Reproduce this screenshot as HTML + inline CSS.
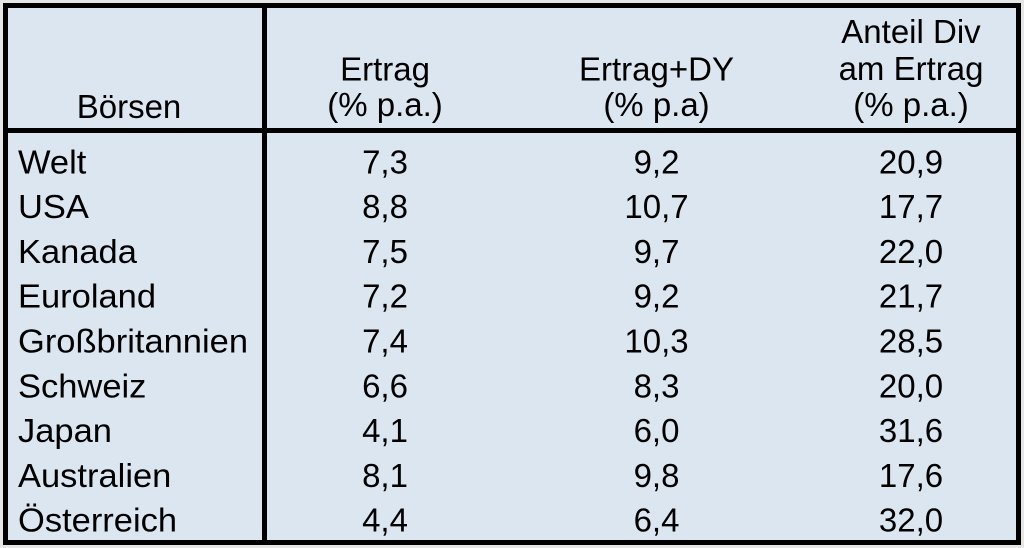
<!DOCTYPE html>
<html>
<head>
<meta charset="utf-8">
<style>
  html, body { margin: 0; padding: 0; background: #e6e6e6; }
  svg { display: block; }
  text { font-family: "Liberation Sans", Arial, sans-serif; font-size: 33px; fill: #000; }
</style>
</head>
<body>
<svg width="1024" height="548" viewBox="0 0 1024 548" xmlns="http://www.w3.org/2000/svg">
  <rect x="0" y="0" width="1024" height="548" fill="#e6e6e6"/>
  <rect x="3" y="3" width="1018" height="542" fill="#dce6f1"/>
  <!-- borders -->
  <rect x="3" y="3" width="1018" height="5" fill="#000"/>
  <rect x="3" y="540" width="1018" height="5" fill="#000"/>
  <rect x="3" y="3" width="5" height="542" fill="#000"/>
  <rect x="1016" y="3" width="5" height="542" fill="#000"/>
  <rect x="262" y="3" width="5" height="542" fill="#000"/>
  <rect x="3" y="128" width="1018" height="5" fill="#000"/>

  <!-- header -->
  <text x="129" y="118" text-anchor="middle">Börsen</text>
  <text x="385" y="80.5" text-anchor="middle">Ertrag</text>
  <text x="385" y="116" text-anchor="middle">(% p.a.)</text>
  <text x="656.5" y="80.5" text-anchor="middle">Ertrag+DY</text>
  <text x="656.5" y="116" text-anchor="middle">(% p.a)</text>
  <text x="911" y="43" text-anchor="middle">Anteil Div</text>
  <text x="911" y="80" text-anchor="middle">am Ertrag</text>
  <text x="911" y="116" text-anchor="middle">(% p.a.)</text>

  <!-- row labels -->
  <g transform="translate(18,0) scale(1.045,1)">
    <text x="0" y="173.3">Welt</text>
    <text x="0" y="218.1">USA</text>
    <text x="0" y="262.9">Kanada</text>
    <text x="0" y="307.7">Euroland</text>
    <text x="0" y="352.5">Großbritannien</text>
    <text x="0" y="397.3">Schweiz</text>
    <text x="0" y="442.1">Japan</text>
    <text x="0" y="486.9">Australien</text>
    <text x="0" y="531.7">Österreich</text>
  </g>

  <!-- values -->
  <g text-anchor="middle">
    <text x="385" y="173.3">7,3</text>
    <text x="656.5" y="173.3">9,2</text>
    <text x="911" y="173.3">20,9</text>

    <text x="385" y="218.1">8,8</text>
    <text x="656.5" y="218.1">10,7</text>
    <text x="911" y="218.1">17,7</text>

    <text x="385" y="262.9">7,5</text>
    <text x="656.5" y="262.9">9,7</text>
    <text x="911" y="262.9">22,0</text>

    <text x="385" y="307.7">7,2</text>
    <text x="656.5" y="307.7">9,2</text>
    <text x="911" y="307.7">21,7</text>

    <text x="385" y="352.5">7,4</text>
    <text x="656.5" y="352.5">10,3</text>
    <text x="911" y="352.5">28,5</text>

    <text x="385" y="397.3">6,6</text>
    <text x="656.5" y="397.3">8,3</text>
    <text x="911" y="397.3">20,0</text>

    <text x="385" y="442.1">4,1</text>
    <text x="656.5" y="442.1">6,0</text>
    <text x="911" y="442.1">31,6</text>

    <text x="385" y="486.9">8,1</text>
    <text x="656.5" y="486.9">9,8</text>
    <text x="911" y="486.9">17,6</text>

    <text x="385" y="531.7">4,4</text>
    <text x="656.5" y="531.7">6,4</text>
    <text x="911" y="531.7">32,0</text>
  </g>
</svg>
</body>
</html>
